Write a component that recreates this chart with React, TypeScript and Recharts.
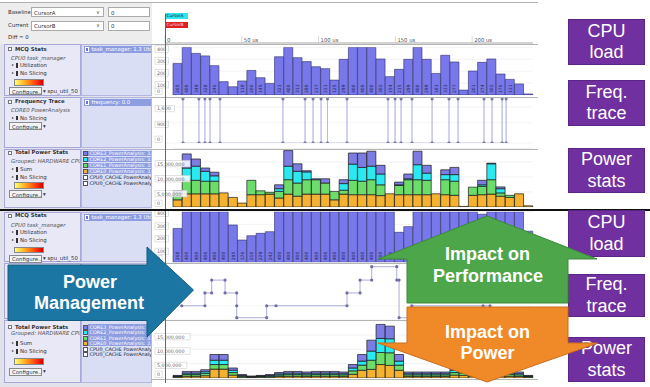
import React from 'react';
import { BarChart, Bar, LineChart, Line, XAxis, YAxis, CartesianGrid, LabelList } from 'recharts';

const UI = '"DejaVu Sans", sans-serif';
const SLIDE = '"Liberation Sans", Arial, sans-serif';

// time axis (us) shared by every trace panel
const timeDomain = [0, 239.6];
const timeTicks = [0, 50, 100, 150, 200];

// MCQ stats: CPU0 utilisation per slot, without / with power management
const cpuLoadBefore = [265, 400, 349, 328, 246, 112, 69, 118, 206, 145, 97, 321, 400, 313, 280, 237, 221, 125, 299, 400, 400, 400, 302, 154, 215, 299, 400, 299, 181, 333, 277, 41, 201, 274, 302, 176, 131, 93, 9];
const cpuLoadAfter = [268, 400, 400, 400, 400, 400, 295, 176, 210, 229, 242, 400, 400, 400, 400, 400, 400, 400, 400, 400, 400, 400, 400, 400, 237, 282, 400, 400, 400, 400, 400, 400, 400, 380, 400, 400, 400, 400, 246];
const cpuTicks = [0, 100, 200, 300, 400];

// frequency trace, upper run: change events (us) spiking to the top frequency
const freqEventTimes = [11.7, 22.1, 26.0, 29.3, 35.8, 76.8, 91.2, 96.4, 101.6, 105.8, 118.5, 145.2, 149.8, 153.7, 160.8, 173.9, 184.9, 190.8, 207.7, 212.9, 219.5, 222.1];
const freqSpike = 1950;
const freqTicks = [0, 900, 1600];

// frequency trace, lower run: stepped DVFS levels
const stepTimes = [10.9, 26, 26, 30.4, 30.4, 39.1, 39.1, 46.7, 46.7, 46.7, 66.2, 66.2, 72.3, 118.5, 118.5, 127, 127, 134.6, 134.6, 150.9, 150.9, 152.4, 152.4, 160.7, 160.7, 207.1, 211.6];
const stepFreqs = [500, 500, 950, 950, 1400, 1400, 950, 950, 500, 80, 80, 500, 500, 500, 950, 950, 1400, 1400, 1870, 1870, 1400, 1400, 80, 80, 500, 500, 500];

// total power stats per slot, millions (CORE0 orange, CORE1 green, CORE2 cyan, CORE3 blue)
const powerTicks = [0, 5, 10, 15];
const core0Before = [2.4, 4.4, 4.4, 4.4, 4.4, 4.7, 3.2, 1.3, 4.1, 4.1, 4.3, 3.0, 4.3, 3.6, 4.3, 4.3, 4.3, 2.4, 4.3, 4.1, 4.1, 4.1, 3.8, 4.4, 4.1, 4.1, 4.1, 4.1, 4.4, 4.1, 3.9, 0.2, 3.9, 4.1, 4.3, 3.6, 3.2, 4.4, 0.4];
const core1Before = [1.2, 4.5, 4.5, 4.2, 4.2, 0, 0, 0, 4.8, 1.3, 0.6, 2.2, 4.8, 4.4, 4.8, 4.8, 3.7, 2.8, 1.3, 4.8, 4.5, 5.0, 3.6, 0, 3.1, 5.0, 5.0, 4.8, 0, 5.0, 4.7, 0, 2.7, 2.8, 4.8, 1.1, 0.7, 0, 0];
const core2Before = [1.1, 4.1, 4.7, 3.3, 1.8, 0, 0, 0, 0, 0, 0, 0.9, 4.5, 3.9, 2.6, 0, 0, 0, 2.2, 5.4, 4.6, 4.5, 3.6, 0, 0.2, 0.3, 5.0, 2.4, 0, 1.7, 2.2, 0, 0, 0.5, 5.3, 1.4, 0, 0, 0];
const core3Before = [0.7, 4.7, 2.4, 1.1, 1.2, 0, 0, 0, 0, 0, 0, 1.3, 5.2, 2.5, 0.4, 0.3, 1.4, 0, 1.3, 3.7, 4.8, 5.0, 2.9, 0, 0.9, 1.6, 4.5, 2.6, 0, 1.6, 2.4, 0, 0, 1.5, 0.2, 0.6, 0, 0, 0];

const core0After = [0.3, 0.6, 0.6, 0.8, 3.1, 3.1, 1.0, 0.3, 0.2, 0.3, 0.3, 0.5, 0.6, 0.6, 0.5, 0.6, 0.6, 0.6, 0.5, 1.3, 2.7, 3.0, 4.7, 4.4, 2.7, 0.5, 0.5, 0.5, 0.5, 0.5, 1.0, 0.9, 0.6, 0.5, 0.5, 0.5, 0.6, 0.5, 0.3];
const core1After = [0.2, 0.6, 0.6, 0.8, 1.6, 1.6, 0.9, 0.3, 0.2, 0.2, 0.3, 0.5, 0.6, 0.6, 0.6, 0.6, 0.6, 0.6, 0.6, 1.2, 1.8, 3.2, 4.2, 4.4, 1.8, 0.6, 0.6, 0.6, 0.6, 0.6, 0.9, 0.9, 0.6, 0.6, 0.6, 0.6, 0.6, 0.6, 0.2];
const core2After = [0.2, 0.5, 0.5, 0.6, 1.5, 1.5, 0.8, 0.3, 0.1, 0.2, 0.3, 0.4, 0.5, 0.5, 0.4, 0.5, 0.5, 0.5, 0.4, 1.0, 1.4, 3.2, 4.9, 4.9, 1.4, 0.4, 0.4, 0.4, 0.4, 0.4, 0.8, 0.7, 0.5, 0.4, 0.4, 0.4, 0.5, 0.4, 0.2];
const core3After = [0.2, 0.6, 0.6, 0.7, 2.0, 2.0, 0.8, 0.3, 0.2, 0.2, 0.3, 0.5, 0.6, 0.6, 0.6, 0.6, 0.6, 0.6, 0.6, 1.2, 2.3, 3.8, 4.9, 4.4, 2.3, 0.6, 0.6, 0.6, 0.6, 0.6, 0.8, 0.8, 0.6, 0.6, 0.6, 0.6, 0.6, 0.6, 0.2];

const powerLegend = ['CORE3_PowerAnalysis: 3.1', 'CORE2_PowerAnalysis: 3.1', 'CORE1_PowerAnalysis: 3.1', 'CORE0_PowerAnalysis: 3.1'];
const coreColors = ['#7c7ce2', '#2ae9f0', '#6cdc6a', '#f5b231'];

const CHART_LEFT = 152;
const CHART_W = 386;

const BoxTick = (props: any) => {
  const { y, payload, fmt } = props;
  const label = fmt(payload.value);
  const w = label.length * 3.1 + 4;
  const top = payload.value === 0 ? y - 6.9 : y - 1.5;
  return (
    <g>
      <rect x={3} y={top} width={w} height={6.4} fill="#fff" fillOpacity={0.85} stroke="#cfcfcf" strokeWidth={0.6} />
      <text x={5} y={top + 5} fontSize={4.8} fill="#666" fontFamily={UI}>{label}</text>
    </g>
  );
};

const TimeTick = (props: any) => {
  const { x, payload } = props;
  const label = payload.value === 0 ? '0' : `${payload.value} us`;
  return (
    <g>
      <line x1={x} x2={x} y1={8} y2={15} stroke="#c0c0c0" strokeWidth={0.6} />
      <text x={x + 2} y={13.5} fontSize={5.3} fill="#555" fontFamily={UI}>{label}</text>
    </g>
  );
};

const BarValue = (props: any) => {
  const { x, y, width, height, value } = props;
  if (height < 14) return null;
  return (
    <text transform={`translate(${x + width / 2 + 1.7}, ${y + height - 2}) rotate(-90)`} fontSize={4.5} fill="#2a2a5c" fontFamily={UI}>
      {value}
    </text>
  );
};

function CpuPanel({ top, height, mt, values }: { top: number; height: number; mt: number; values: number[] }) {
  const data = values.map((load, slot) => ({ slot, load }));
  return (
    <div style={{ position: 'absolute', left: CHART_LEFT, top }}>
      <BarChart width={CHART_W} height={height} data={data} margin={{ top: mt, right: 5, bottom: 1, left: 0 }} barCategoryGap={0} barGap={0}>
        <CartesianGrid vertical={false} stroke="#ececec" strokeWidth={0.7} />
        <XAxis dataKey="slot" hide />
        <YAxis width={21} domain={[0, 400]} ticks={cpuTicks} interval={0} allowDataOverflow axisLine={false} tickLine={false}
          tick={(p: any) => <BoxTick {...p} fmt={(v: number) => String(v)} />} />
        <Bar dataKey="load" fill="#7878ea" stroke="#2e2e6a" strokeWidth={0.6} isAnimationActive={false}>
          <LabelList dataKey="load" content={BarValue} />
        </Bar>
      </BarChart>
    </div>
  );
}

function PowerPanel({ top, height, mt, max, series }: { top: number; height: number; mt: number; max: number; series: number[][] }) {
  const [c0, c1, c2, c3] = series;
  const data = c0.map((_, slot) => ({ slot, core0: c0[slot], core1: c1[slot], core2: c2[slot], core3: c3[slot] }));
  const keys = ['core0', 'core1', 'core2', 'core3'];
  const fills = [coreColors[3], coreColors[2], coreColors[1], coreColors[0]];
  return (
    <div style={{ position: 'absolute', left: CHART_LEFT, top }}>
      <BarChart width={CHART_W} height={height} data={data} margin={{ top: mt, right: 5, bottom: 1, left: 0 }} barCategoryGap={0} barGap={0}>
        <CartesianGrid vertical={false} stroke="#ececec" strokeWidth={0.7} />
        <XAxis dataKey="slot" hide />
        <YAxis width={21} domain={[0, max]} ticks={powerTicks} interval={0} allowDataOverflow axisLine={false} tickLine={false}
          tick={(p: any) => <BoxTick {...p} fmt={(v: number) => (v * 1e6).toLocaleString('en-US')} />} />
        {keys.map((k, i) => (
          <Bar key={k} dataKey={k} stackId="power" fill={fills[i]} stroke="#1a1a1a" strokeWidth={0.7} isAnimationActive={false} />
        ))}
      </BarChart>
    </div>
  );
}

function FreqSpikePanel({ top }: { top: number }) {
  const data = freqEventTimes.flatMap((t) => [{ t, f: 0 }, { t, f: freqSpike }, { t, f: 0 }]);
  return (
    <div style={{ position: 'absolute', left: CHART_LEFT, top }}>
      <LineChart width={CHART_W} height={51} data={data} margin={{ top: 0.9, right: 5, bottom: 5, left: 0 }}>
        <CartesianGrid vertical={false} stroke="#efefef" strokeWidth={0.7} />
        <XAxis type="number" dataKey="t" domain={timeDomain} allowDataOverflow hide />
        <YAxis width={13} domain={[0, 2000]} ticks={freqTicks} interval={0} allowDataOverflow axisLine={false} tickLine={false}
          tick={(p: any) => <BoxTick {...p} fmt={(v: number) => v.toLocaleString('en-US')} />} />
        <Line dataKey="f" type="linear" stroke="#b8b8ea" strokeWidth={0.8} dot={{ r: 1.5, fill: '#7a7aa6', stroke: 'none' }} isAnimationActive={false} />
      </LineChart>
    </div>
  );
}

function FreqStepPanel({ top }: { top: number }) {
  const data = stepTimes.map((t, i) => ({ t, f: stepFreqs[i] }));
  return (
    <div style={{ position: 'absolute', left: CHART_LEFT, top }}>
      <LineChart width={CHART_W} height={58} data={data} margin={{ top: 1, right: 5, bottom: 0, left: 13 }}>
        <CartesianGrid vertical={false} stroke="#efefef" strokeWidth={0.7} />
        <XAxis type="number" dataKey="t" domain={timeDomain} allowDataOverflow hide />
        <YAxis hide domain={[0, 2000]} allowDataOverflow />
        <Line dataKey="f" type="linear" stroke="#a4a4d4" strokeWidth={0.9} dot={{ r: 1.6, fill: '#6e6ea2', stroke: 'none' }} isAnimationActive={false} />
      </LineChart>
    </div>
  );
}

function TimeAxis() {
  const data = timeDomain.map((t) => ({ t }));
  return (
    <div style={{ position: 'absolute', left: CHART_LEFT, top: 28 }}>
      <LineChart width={CHART_W} height={17} data={data} margin={{ top: 0, right: 5, bottom: 0, left: 13 }}>
        <XAxis type="number" dataKey="t" domain={timeDomain} allowDataOverflow orientation="top" height={15}
          ticks={timeTicks} interval={0} stroke="#a8a8a8" tickLine={false} tick={TimeTick} />
        <YAxis hide />
      </LineChart>
    </div>
  );
}

const T = ({ x, y, size = 5.4, bold = false, italic = false, color = '#333', children }: any) => (
  <div style={{ position: 'absolute', left: x, top: y, fontSize: size, fontWeight: bold ? 700 : 400, fontStyle: italic ? 'italic' : 'normal', color, whiteSpace: 'nowrap', lineHeight: 1, fontFamily: UI }}>
    {children}
  </div>
);

const Box = ({ x, y, w, h, bg, border = 'none', children }: any) => (
  <div style={{ position: 'absolute', left: x, top: y, width: w, height: h, background: bg, border, boxSizing: 'border-box', overflow: 'hidden' }}>{children}</div>
);

const Bullet = ({ x, y, text }: any) => (
  <>
    <T x={x} y={y}>•</T>
    <Box x={x + 5} y={y} w={2.2} h={4.5} bg="#333" />
    <T x={x + 9} y={y}>{text}</T>
  </>
);

const Gradient = ({ y }: any) => (
  <Box x={9} y={y} w={30} h={6.5} border="0.6px solid #888" bg="linear-gradient(to right, #ffff70, #ffb020 35%, #ff3a10 75%, #d40000)" />
);

const Configure = ({ y, extra }: any) => (
  <>
    <Box x={9} y={y} w={33} h={8} bg="#f4f4f4" border="0.6px solid #8a8a8a">
      <T x={2} y={1.6}>Configure...</T>
    </Box>
    <T x={43} y={y + 1.6}>{extra}</T>
  </>
);

const leftRows = [
  { top: 44, height: 52, kind: 'mcq', off: [1.5, 10.5, 18, 26, 34, 43] },
  { top: 97, height: 51, kind: 'freq', off: [1, 9.5, 17.5, 25] },
  { top: 149, height: 59, kind: 'power', off: [0, 9, 17, 25, 32, 41], legendTop: 0.5, legendStep: 6 },
  { top: 212, height: 50, kind: 'mcq', off: [0, 9.5, 17, 25, 33.5, 42.5] },
  { top: 263, height: 56, kind: 'freq', off: [1, 9.5, 17.5, 25] },
  { top: 320, height: 63, kind: 'power', off: [3.5, 10, 20, 28, 37, 47.5], legendTop: 3.3, legendStep: 5.5 },
];

function LeftRow({ row }: any) {
  const { top, height, kind, off } = row;
  const titles: any = { mcq: 'MCQ Stats', freq: 'Frequency Trace', power: 'Total Power Stats' };
  return (
    <div style={{ position: 'absolute', left: 0, top, width: 152, height }}>
      <Box x={4} y={0} w={77} h={height} bg="#e8e8f7" border="0.8px solid #a8a8d8">
        <Box x={3} y={off[0] + 0.5} w={4} h={4} bg="#fff" border="0.6px solid #777" />
        <T x={10} y={off[0]} bold>{titles[kind]}</T>
        {kind === 'mcq' && (
          <>
            <T x={6} y={off[1]} italic color="#555">CPU0 task_manager</T>
            <Bullet x={6} y={off[2]} text="Utilization" />
            <Bullet x={6} y={off[3]} text="No Slicing" />
            <Gradient y={off[4]} />
          </>
        )}
        {kind === 'freq' && (
          <>
            <T x={6} y={off[1]} italic color="#555">CORE0 PowerAnalysis</T>
            <Bullet x={6} y={off[2]} text="No Slicing" />
          </>
        )}
        {kind === 'power' && (
          <>
            <T x={6} y={off[1]} italic color="#555">Grouped: HARDWARE CPU0</T>
            <Bullet x={6} y={off[2]} text="Sum" />
            <Bullet x={6} y={off[3]} text="No Slicing" />
            <Gradient y={off[4]} />
          </>
        )}
      </Box>
      <div style={{ position: 'absolute', left: 0, top: 0 }}>
        {kind === 'mcq' && <Configure y={off[5]} extra="▾ spu_util_50" />}
        {kind === 'freq' && <Configure y={off[3]} extra="▾" />}
        {kind === 'power' && <Configure y={off[5]} extra="▾" />}
      </div>
      <Box x={81} y={0} w={71} h={height} bg="#dadef4" border="0.8px solid #b4b8e0">
        {kind === 'mcq' && (
          <Box x={1.5} y={1} w={68} h={7} bg="#8d9de0">
            <Box x={1} y={1.2} w={4.5} h={4.5} bg="#6f6fd8" border="0.5px solid #fff" />
            <T x={8} y={1.2} color="#fff">task_manager: 1.3 Utilization</T>
          </Box>
        )}
        {kind === 'freq' && (
          <Box x={1.5} y={1} w={68} h={7} bg="#8d9de0">
            <Box x={1} y={1.2} w={4.5} h={4.5} bg="#6f6fd8" border="0.5px solid #fff" />
            <T x={8} y={1.2} color="#fff">frequency: 0.0</T>
          </Box>
        )}
        {kind === 'power' &&
          [...powerLegend, 'CPU0_CACHE PowerAnalysis', 'CPU0_CACHE PowerAnalysis'].map((name, i) => {
            const y = row.legendTop + i * row.legendStep;
            const colored = i < 4;
            return (
              <React.Fragment key={i}>
                {colored && <Box x={6} y={y} w={64} h={5.5} bg="#8d9de0" />}
                <Box x={1} y={y + 0.3} w={5} h={5} bg={colored ? coreColors[i] : '#fff'} border="0.5px solid #555" />
                <div style={{ position: 'absolute', left: 7.5, top: y + 0.5 }}>
                  <T x={0} y={0} size={4.9} color={colored ? '#fff' : '#222'}>{name}</T>
                </div>
              </React.Fragment>
            );
          })}
      </Box>
    </div>
  );
}

const slideBoxes = [
  { top: 19, height: 46, lines: ['CPU', 'load'] },
  { top: 80, height: 46, lines: ['Freq.', 'trace'] },
  { top: 148, height: 45, lines: ['Power', 'stats'] },
  { top: 210, height: 47, lines: ['CPU', 'load'] },
  { top: 274, height: 43, lines: ['Freq.', 'trace'] },
  { top: 337, height: 45, lines: ['Power', 'stats'] },
];

function Arrows() {
  const txt = { fontFamily: SLIDE, fontWeight: 700, fontSize: 18, fill: '#fff', textAnchor: 'middle' as const };
  return (
    <svg width={650} height={387} style={{ position: 'absolute', left: 0, top: 0 }}>
      <polygon points="8,265 147,265 147,247 193.5,290 147,337 147,320.5 8,320.5" fill="#1c76a3" stroke="#145a80" strokeWidth={1} />
      <text x={90} y={288} {...txt}>Power</text>
      <text x={89} y={308.5} {...txt}>Management</text>
      <polygon points="407,303 407,259 378,259 487,216 597,259 568,259 568,303" fill="#4ea64b" stroke="#3c8a3a" strokeWidth={1} />
      <text x={487.5} y={260} {...txt}>Impact on</text>
      <text x={488} y={281.5} {...txt}>Performance</text>
      <polygon points="407,307 568,307 568,343 598,343 487,382 378,343 407,343" fill="#f08a28" stroke="#c86e1c" strokeWidth={1} />
      <text x={487.5} y={337.5} {...txt}>Impact on</text>
      <text x={487.5} y={358.5} {...txt}>Power</text>
    </svg>
  );
}

export default function App() {
  const separators = [43.5, 96.5, 148.5, 262.8, 319.6, 379];
  return (
    <div style={{ position: 'fixed', left: 0, top: 0, width: 650, height: 387, background: '#fff', overflow: 'hidden', fontFamily: UI }}>
      {/* tool frame */}
      <Box x={0} y={2} w={538} h={1.2} bg="#b0b0b0" />
      <Box x={0} y={3} w={152} h={41} bg="#ededed" />
      <Box x={0} y={44} w={152} h={343} bg="#e2e2ea" />
      <T x={8} y={9.5}>Baseline</T>
      <Box x={31} y={7} w={73} h={10} bg="#fff" border="0.6px solid #aaa"><T x={2} y={2.5}>CursorA</T></Box>
      <T x={96} y={9.5} color="#666">∨</T>
      <Box x={108} y={7} w={42} h={10} bg="#fff" border="0.6px solid #aaa"><T x={2} y={2.5}>0</T></Box>
      <T x={8} y={23}>Current</T>
      <Box x={31} y={20.5} w={73} h={10} bg="#fff" border="0.6px solid #aaa"><T x={2} y={2.5}>CursorB</T></Box>
      <T x={96} y={23} color="#666">∨</T>
      <Box x={108} y={20.5} w={42} h={10} bg="#fff" border="0.6px solid #aaa"><T x={2} y={2.5}>0</T></Box>
      <T x={8} y={34.5}>Diff = 0</T>

      <Box x={165} y={13} w={23} h={6} bg="#2ee4ee"><T x={1.5} y={1} size={4.3} color="#124">CursorA</T></Box>
      <Box x={165} y={21.5} w={23} h={6} bg="#dd2020"><T x={1.5} y={1} size={4.3} color="#fdd">CursorB</T></Box>

      {leftRows.map((row, i) => <LeftRow key={i} row={row} />)}

      <TimeAxis />
      <CpuPanel top={44} height={52} mt={3.3} values={cpuLoadBefore} />
      <FreqSpikePanel top={97} />
      <PowerPanel top={148} height={60} mt={0.5} max={19.5} series={[core0Before, core1Before, core2Before, core3Before]} />
      <CpuPanel top={211} height={52.3} mt={0.7} values={cpuLoadAfter} />
      <FreqStepPanel top={262} />
      <PowerPanel top={320} height={59} mt={0.7} max={20} series={[core0After, core1After, core2After, core3After]} />

      {separators.map((y) => <Box key={y} x={152} y={y} w={386} h={0.8} bg="#b4b4b4" />)}
      <Box x={164.5} y={14} w={0.8} h={30} bg="#d03030" />
      <Box x={164.5} y={44} w={0.8} h={339} bg="#666" />
      <Box x={0} y={208.5} w={650} h={2.6} bg="#111" />

      {slideBoxes.map((b, i) => (
        <div key={i} style={{ position: 'absolute', left: 568, top: b.top, width: 77, height: b.height, background: '#7030a0', border: '1px solid #5a2585', boxSizing: 'border-box', display: 'flex', flexDirection: 'column', alignItems: 'center', justifyContent: 'center', color: '#fff', fontFamily: SLIDE, fontSize: 18, lineHeight: '21.5px' }}>
          {b.lines.map((l) => <div key={l}>{l}</div>)}
        </div>
      ))}

      <Arrows />
    </div>
  );
}
